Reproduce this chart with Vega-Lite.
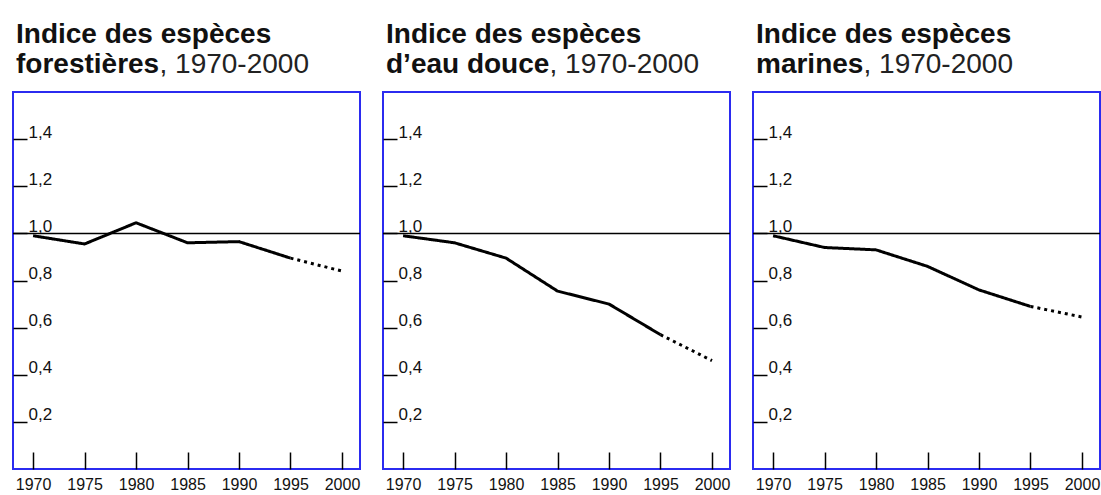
{
  "$schema": "https://vega.github.io/schema/vega-lite/v6.json",
  "background": "white",
  "padding": {"left": 11, "top": 20, "right": 0, "bottom": 0},
  "spacing": 19,
  "datasets": {
    "idx": [
      {"panel": "forest", "year": 1970, "value": 0.99, "seg": "observé"},
      {"panel": "forest", "year": 1975, "value": 0.955, "seg": "observé"},
      {"panel": "forest", "year": 1980, "value": 1.045, "seg": "observé"},
      {"panel": "forest", "year": 1985, "value": 0.96, "seg": "observé"},
      {"panel": "forest", "year": 1990, "value": 0.965, "seg": "observé"},
      {"panel": "forest", "year": 1995, "value": 0.895, "seg": "observé"},
      {"panel": "forest", "year": 1995, "value": 0.895, "seg": "projeté"},
      {"panel": "forest", "year": 2000, "value": 0.84, "seg": "projeté"},
      {"panel": "fresh", "year": 1970, "value": 0.99, "seg": "observé"},
      {"panel": "fresh", "year": 1975, "value": 0.96, "seg": "observé"},
      {"panel": "fresh", "year": 1980, "value": 0.895, "seg": "observé"},
      {"panel": "fresh", "year": 1985, "value": 0.755, "seg": "observé"},
      {"panel": "fresh", "year": 1990, "value": 0.7, "seg": "observé"},
      {"panel": "fresh", "year": 1995, "value": 0.57, "seg": "observé"},
      {"panel": "fresh", "year": 1995, "value": 0.57, "seg": "projeté"},
      {"panel": "fresh", "year": 2000, "value": 0.46, "seg": "projeté"},
      {"panel": "marine", "year": 1970, "value": 0.99, "seg": "observé"},
      {"panel": "marine", "year": 1975, "value": 0.94, "seg": "observé"},
      {"panel": "marine", "year": 1980, "value": 0.93, "seg": "observé"},
      {"panel": "marine", "year": 1985, "value": 0.86, "seg": "observé"},
      {"panel": "marine", "year": 1990, "value": 0.76, "seg": "observé"},
      {"panel": "marine", "year": 1995, "value": 0.69, "seg": "observé"},
      {"panel": "marine", "year": 1995, "value": 0.69, "seg": "projeté"},
      {"panel": "marine", "year": 2000, "value": 0.645, "seg": "projeté"}
    ],
    "ref": [{"ref": 1}]
  },
  "config": {
    "font": "Liberation Sans",
    "view": {"stroke": "#2b2bf0", "strokeWidth": 2},
    "title": {"anchor": "start", "frame": "group", "fontSize": 28, "fontWeight": "bold", "lineHeight": 30, "baseline": "alphabetic", "offset": -29, "dx": 3, "color": "#111"},
    "axis": {"grid": false, "domain": false, "labelOverlap": false, "labelFlush": false}
  },
  "hconcat": [
    {
      "width": 347, "height": 377,
      "title": {"text": ["Indice des espèces", "forestières"]},
      "layer": [
        {"data": {"name": "ref"}, "mark": {"type": "rule", "color": "#000", "strokeWidth": 1.5}, "encoding": {"y": {"field": "ref", "type": "quantitative"}}},
        {
          "data": {"name": "idx"},
          "transform": [{"filter": "datum.panel === 'forest'"}],
          "mark": {"type": "line", "color": "#000", "strokeWidth": 3},
          "encoding": {
            "x": {"field": "year", "type": "quantitative", "scale": {"domain": [1968.05, 2001.75], "nice": false, "zero": false},
                  "axis": {"values": [1970, 1975, 1980, 1985, 1990, 1995, 2000], "format": "d", "tickSize": -17, "tickWidth": 1.5, "tickColor": "#000", "labelPadding": 24, "labelFontSize": 16, "labelColor": "#111", "title": null}},
            "y": {"field": "value", "type": "quantitative", "scale": {"domain": [0, 1.6], "nice": false},
                  "axis": {"values": [0.2, 0.4, 0.6, 0.8, 1.0, 1.2, 1.4], "tickSize": -14, "tickWidth": 1.5, "tickColor": "#000", "labelAlign": "left", "labelBaseline": "alphabetic", "labelOffset": -2, "labelPadding": -1, "labelFontSize": 17, "labelColor": "#111", "labelExpr": "replace(format(datum.value, '.1f'), '.', ',')",
                           "title": ", 1970-2000", "titleAngle": 0, "titleX": 146, "titleY": -20, "titleAlign": "left", "titleBaseline": "alphabetic", "titleFontSize": 28, "titleFontWeight": "normal", "titleColor": "#222"}},
            "strokeDash": {"field": "seg", "type": "nominal", "scale": {"domain": ["observé", "projeté"], "range": [[1, 0], [3, 4]]}, "legend": null}
          }
        }
      ]
    },
    {
      "width": 347, "height": 377,
      "title": {"text": ["Indice des espèces", "d’eau douce"]},
      "layer": [
        {"data": {"name": "ref"}, "mark": {"type": "rule", "color": "#000", "strokeWidth": 1.5}, "encoding": {"y": {"field": "ref", "type": "quantitative"}}},
        {
          "data": {"name": "idx"},
          "transform": [{"filter": "datum.panel === 'fresh'"}],
          "mark": {"type": "line", "color": "#000", "strokeWidth": 3},
          "encoding": {
            "x": {"field": "year", "type": "quantitative", "scale": {"domain": [1968.05, 2001.75], "nice": false, "zero": false},
                  "axis": {"values": [1970, 1975, 1980, 1985, 1990, 1995, 2000], "format": "d", "tickSize": -17, "tickWidth": 1.5, "tickColor": "#000", "labelPadding": 24, "labelFontSize": 16, "labelColor": "#111", "title": null}},
            "y": {"field": "value", "type": "quantitative", "scale": {"domain": [0, 1.6], "nice": false},
                  "axis": {"values": [0.2, 0.4, 0.6, 0.8, 1.0, 1.2, 1.4], "tickSize": -14, "tickWidth": 1.5, "tickColor": "#000", "labelAlign": "left", "labelBaseline": "alphabetic", "labelOffset": -2, "labelPadding": -1, "labelFontSize": 17, "labelColor": "#111", "labelExpr": "replace(format(datum.value, '.1f'), '.', ',')",
                           "title": ", 1970-2000", "titleAngle": 0, "titleX": 166, "titleY": -20, "titleAlign": "left", "titleBaseline": "alphabetic", "titleFontSize": 28, "titleFontWeight": "normal", "titleColor": "#222"}},
            "strokeDash": {"field": "seg", "type": "nominal", "scale": {"domain": ["observé", "projeté"], "range": [[1, 0], [3, 4]]}, "legend": null}
          }
        }
      ]
    },
    {
      "width": 347, "height": 377,
      "title": {"text": ["Indice des espèces", "marines"]},
      "layer": [
        {"data": {"name": "ref"}, "mark": {"type": "rule", "color": "#000", "strokeWidth": 1.5}, "encoding": {"y": {"field": "ref", "type": "quantitative"}}},
        {
          "data": {"name": "idx"},
          "transform": [{"filter": "datum.panel === 'marine'"}],
          "mark": {"type": "line", "color": "#000", "strokeWidth": 3},
          "encoding": {
            "x": {"field": "year", "type": "quantitative", "scale": {"domain": [1968.05, 2001.75], "nice": false, "zero": false},
                  "axis": {"values": [1970, 1975, 1980, 1985, 1990, 1995, 2000], "format": "d", "tickSize": -17, "tickWidth": 1.5, "tickColor": "#000", "labelPadding": 24, "labelFontSize": 16, "labelColor": "#111", "title": null}},
            "y": {"field": "value", "type": "quantitative", "scale": {"domain": [0, 1.6], "nice": false},
                  "axis": {"values": [0.2, 0.4, 0.6, 0.8, 1.0, 1.2, 1.4], "tickSize": -14, "tickWidth": 1.5, "tickColor": "#000", "labelAlign": "left", "labelBaseline": "alphabetic", "labelOffset": -2, "labelPadding": -1, "labelFontSize": 17, "labelColor": "#111", "labelExpr": "replace(format(datum.value, '.1f'), '.', ',')",
                           "title": ", 1970-2000", "titleAngle": 0, "titleX": 110, "titleY": -20, "titleAlign": "left", "titleBaseline": "alphabetic", "titleFontSize": 28, "titleFontWeight": "normal", "titleColor": "#222"}},
            "strokeDash": {"field": "seg", "type": "nominal", "scale": {"domain": ["observé", "projeté"], "range": [[1, 0], [3, 4]]}, "legend": null}
          }
        }
      ]
    }
  ]
}
